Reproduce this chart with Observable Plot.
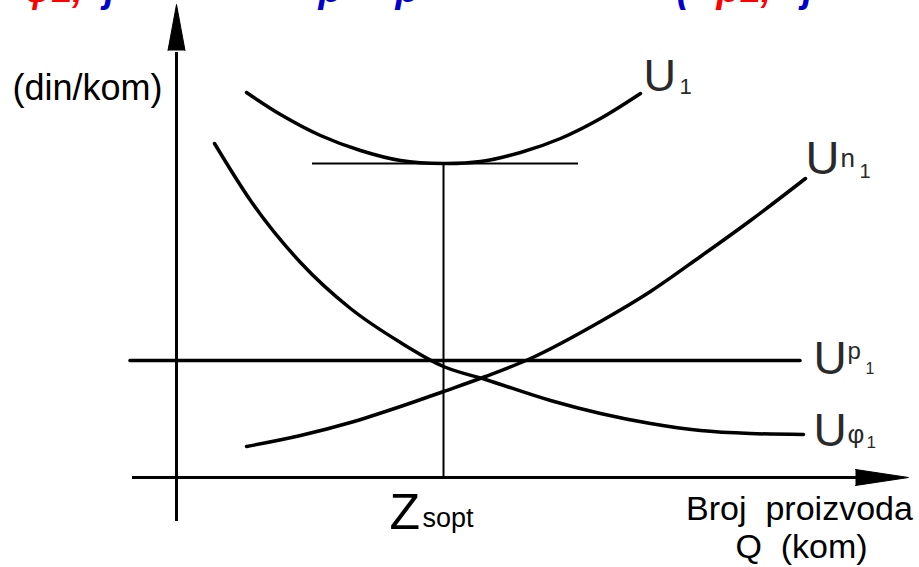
<!DOCTYPE html>
<html>
<head>
<meta charset="utf-8">
<script src="https://cdn.jsdelivr.net/npm/d3@7"></script>
<script src="https://cdn.jsdelivr.net/npm/@observablehq/plot@0.6"></script>
<style>
  html, body { margin: 0; padding: 0; background: #fff; }
  #wrap { position: relative; width: 919px; height: 567px; overflow: hidden; }
  #wrap svg { position: absolute; left: 0; top: 0; }
</style>
</head>
<body>
<div id="wrap"></div>
<script>
// ---- data (Q in abstract units, cost in abstract units) ----
const u1Q   = [0.70, 1.04, 1.44, 1.84, 2.24, 2.67, 3.04, 3.44, 3.84, 4.24, 4.64];
const u1Val = [3.85, 3.63, 3.42, 3.27, 3.17, 3.14, 3.16, 3.25, 3.39, 3.59, 3.84];

const uPhiQ   = [0.38, 0.74, 1.24, 1.74, 2.24, 2.67, 3.09, 3.74, 4.24, 4.74, 5.24, 5.74, 6.27];
const uPhiVal = [3.34, 2.77, 2.15, 1.69, 1.35, 1.11, 0.98, 0.77, 0.64, 0.54, 0.47, 0.44, 0.43];

const unQ   = [0.70, 1.24, 1.74, 2.24, 2.67, 3.09, 3.54, 4.24, 4.74, 5.24, 5.74, 6.29];
const unVal = [0.31, 0.42, 0.55, 0.71, 0.86, 1.01, 1.19, 1.56, 1.86, 2.21, 2.57, 2.99];

const upLevel = 1.17;
const upQ = [-0.46, 6.24];

const zOpt = 2.67;          // optimal series size
const minCost = 3.14;       // minimum of U1
const tangentQ = [1.36, 4.02];

const xAxisQ = [-0.44, 6.79, 7.32];   // start, arrow base, arrow tip
const yAxisC = [-0.44, 4.27, 4.73];   // start, arrow base, arrow tip

const yLabel = "(din/kom)";
const xLabel1 = "Broj  proizvoda";
const xLabel2 = "Q  (kom)";
const zLabel = ["Z", "sopt"];

// clipped heading fragments above the figure (only their lower parts show)
const headText  = ["φ1,", "j", "p", "p", "(", "p1,", "j"];
const headQ     = [-1.52, -0.72, 1.42, 2.19, 5.00, 5.40, 6.26];
const headColor = ["#ff0000", "#0000cc", "#0000cc", "#0000cc", "#0000cc", "#ff0000", "#0000cc"];
const headC = 4.755;

// ---- build tables ----
const toRows = (qs, vs) => qs.map((q, i) => ({q, c: vs[i]}));
const u1 = toRows(u1Q, u1Val);
const uPhi = toRows(uPhiQ, uPhiVal);
const un = toRows(unQ, unVal);
const head = headText.map((t, i) => ({t, q: headQ[i], c: headC, col: headColor[i]}));

const xArrow = [
  {q: xAxisQ[1], c: 0.08}, {q: xAxisQ[2], c: 0}, {q: xAxisQ[1], c: -0.08}
];
const yArrow = [
  {q: -0.085, c: yAxisC[1]}, {q: 0, c: yAxisC[2]}, {q: 0.085, c: yAxisC[1]}
];

const ink = "#000";
const lab = "#2a2a2a";
const FONT = "Liberation Sans, Arial, sans-serif";
const T = (data, opts) => Plot.text(data, {textAnchor: "start", lineAnchor: "bottom", fontFamily: FONT, ...opts});
const last = a => a[a.length - 1];
const at = (q, c) => [{q, c}];

const chart = Plot.plot({
  width: 919,
  height: 567,
  margin: 0,
  x: {domain: [-1.76, 7.43], range: [0, 919], axis: null},
  y: {domain: [-0.90, 4.77], range: [567, 0], axis: null},
  color: {type: "identity"},
  style: {background: "transparent", overflow: "hidden"},
  marks: [
    // heading fragments
    T(head, {x: "q", y: "c", text: "t", fill: "col", fontSize: 38, fontStyle: "italic", fontWeight: "bold"}),
    // axes
    Plot.ruleY([0], {x1: xAxisQ[0], x2: xAxisQ[1] + 0.02, stroke: ink, strokeWidth: 3}),
    Plot.ruleX([0], {y1: yAxisC[0], y2: yAxisC[1] - 0.02, stroke: ink, strokeWidth: 3}),
    Plot.line(xArrow, {x: "q", y: "c", fill: ink, stroke: ink, strokeWidth: 1}),
    Plot.line(yArrow, {x: "q", y: "c", fill: ink, stroke: ink, strokeWidth: 1}),
    // optimum construction lines
    Plot.ruleX([zOpt], {y1: 0, y2: minCost, stroke: ink, strokeWidth: 2}),
    Plot.ruleY([minCost], {x1: tangentQ[0], x2: tangentQ[1], stroke: ink, strokeWidth: 1.8}),
    // Up1 constant line
    Plot.ruleY([upLevel], {x1: upQ[0], x2: upQ[1], stroke: ink, strokeWidth: 3.5, strokeLinecap: "round"}),
    // curves
    Plot.line(u1, {x: "q", y: "c", curve: "catmull-rom", stroke: ink, strokeWidth: 3.5, strokeLinecap: "round"}),
    Plot.line(uPhi, {x: "q", y: "c", curve: "monotone-x", stroke: ink, strokeWidth: 3.5, strokeLinecap: "round"}),
    Plot.line(un, {x: "q", y: "c", curve: "monotone-x", stroke: ink, strokeWidth: 3.5, strokeLinecap: "round"}),
    // curve labels
    T(at(last(u1Q) + 0.03, last(u1Val) + 0.03), {x: "q", y: "c", text: () => "U", fontSize: 45, fill: lab}),
    T(at(last(u1Q) + 0.39, last(u1Val) + 0.00), {x: "q", y: "c", text: () => "1", fontSize: 22, fill: lab}),

    T(at(last(unQ) + 0.00, last(unVal) + 0.05), {x: "q", y: "c", text: () => "U", fontSize: 47, fill: lab}),
    T(at(last(unQ) + 0.35, last(unVal) + 0.12), {x: "q", y: "c", text: () => "n", fontSize: 26, fill: lab}),
    T(at(last(unQ) + 0.54, last(unVal) + 0.01), {x: "q", y: "c", text: () => "1", fontSize: 20, fill: lab}),

    T(at(upQ[1] + 0.13, upLevel - 0.13), {x: "q", y: "c", text: () => "U", fontSize: 46, fill: lab}),
    T(at(upQ[1] + 0.47, upLevel + 0.02), {x: "q", y: "c", text: () => "p", fontSize: 24, fill: lab}),
    T(at(upQ[1] + 0.65, upLevel - 0.13), {x: "q", y: "c", text: () => "1", fontSize: 16, fill: lab}),

    T(at(last(uPhiQ) + 0.10, last(uPhiVal) - 0.11), {x: "q", y: "c", text: () => "U", fontSize: 46, fill: lab}),
    T(at(last(uPhiQ) + 0.44, last(uPhiVal) - 0.08), {x: "q", y: "c", text: () => "φ", fontSize: 26, fill: lab}),
    T(at(last(uPhiQ) + 0.63, last(uPhiVal) - 0.13), {x: "q", y: "c", text: () => "1", fontSize: 17, fill: lab}),

    // axis labels
    T(at(-1.64, 3.78), {x: "q", y: "c", text: () => yLabel, fontSize: 36, fill: ink}),
    T(at(zOpt - 0.54, -0.51), {x: "q", y: "c", text: () => zLabel[0], fontSize: 50, fill: ink}),
    T(at(zOpt - 0.21, -0.49), {x: "q", y: "c", text: () => zLabel[1], fontSize: 27, fill: ink}),
    T(at(6.23, -0.42), {x: "q", y: "c", text: () => xLabel1, fontSize: 34, fill: ink, textAnchor: "middle"}),
    T(at(6.25, -0.80), {x: "q", y: "c", text: () => xLabel2, fontSize: 34, fill: ink, textAnchor: "middle"})
  ]
});
chart.querySelectorAll("text").forEach(t => { t.setAttribute("xml:space", "preserve"); t.style.whiteSpace = "pre"; });
document.getElementById("wrap").appendChild(chart);
</script>
</body>
</html>
